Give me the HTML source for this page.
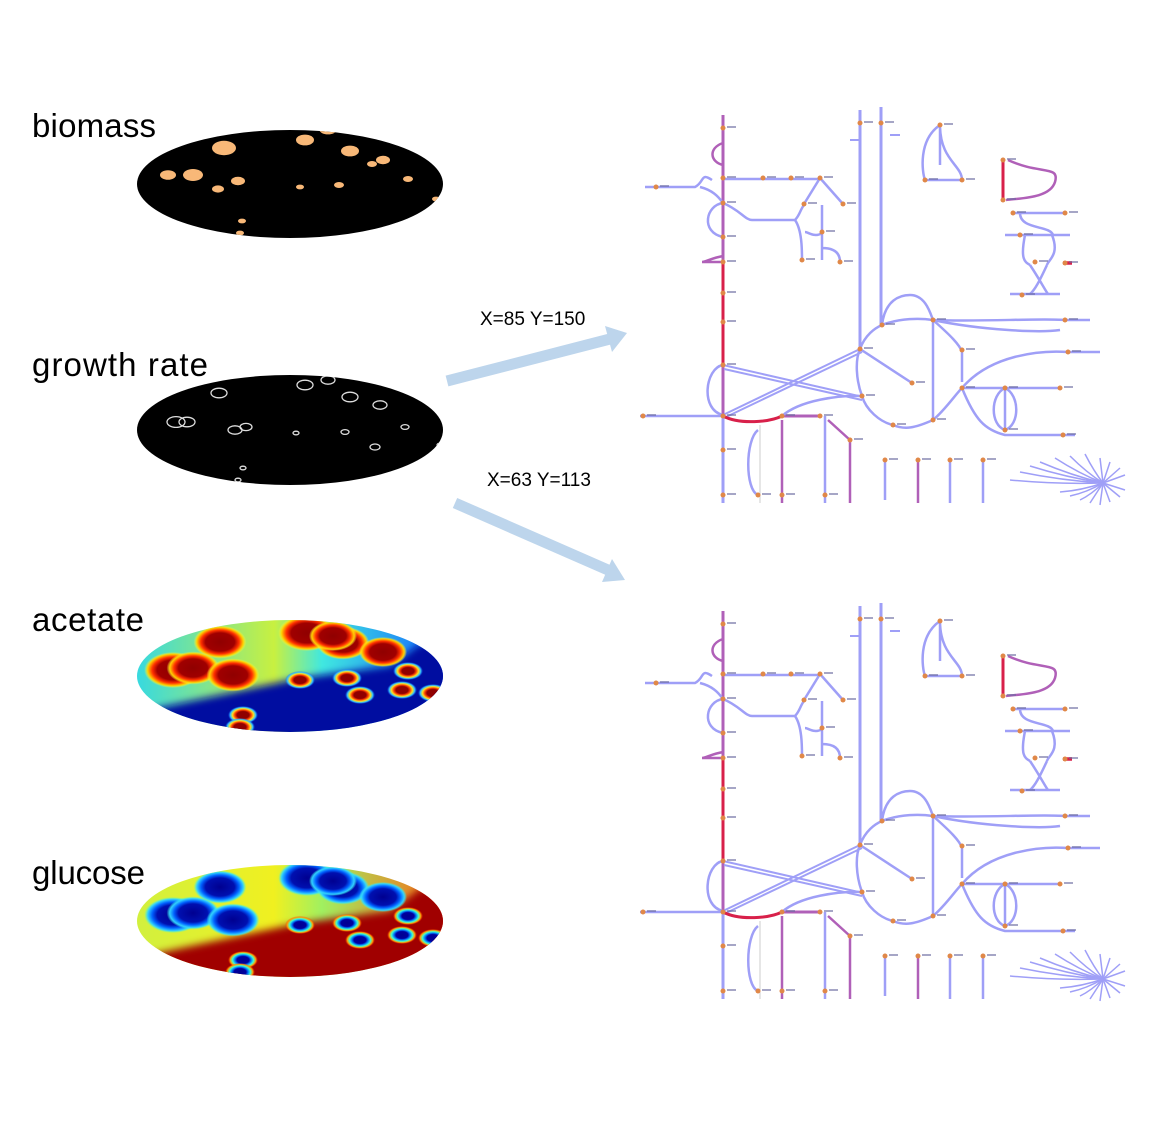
<!DOCTYPE html>
<html><head><meta charset="utf-8"><style>
body{margin:0;background:#fff;}
svg{display:block;}
.lbl{font-family:"Liberation Sans",sans-serif;font-size:33px;fill:#000;}
.arl{font-family:"Liberation Sans",sans-serif;font-size:19px;fill:#000;}
</style></head><body>
<svg id="root" width="1153" height="1125" viewBox="0 0 1153 1125" xmlns="http://www.w3.org/2000/svg">
<defs>
<clipPath id="c1"><ellipse cx="290" cy="184" rx="153" ry="54"/></clipPath>
<clipPath id="c2"><ellipse cx="290" cy="430" rx="153" ry="55"/></clipPath>
<clipPath id="c3"><ellipse cx="290" cy="676" rx="153" ry="56"/></clipPath>
<clipPath id="c4"><ellipse cx="290" cy="921" rx="153" ry="56"/></clipPath>
<filter id="bl" x="-20%" y="-20%" width="140%" height="140%"><feGaussianBlur stdDeviation="4"/></filter>
<linearGradient id="acBase" x1="0" y1="0" x2="1" y2="0">
<stop offset="0" stop-color="#30d8e8"/><stop offset="0.45" stop-color="#c8f040"/><stop offset="0.6" stop-color="#40e8e0"/><stop offset="1" stop-color="#1060ff"/></linearGradient>
<linearGradient id="glBase" x1="0" y1="0" x2="1" y2="0">
<stop offset="0" stop-color="#d0f040"/><stop offset="0.45" stop-color="#f0f020"/><stop offset="0.6" stop-color="#a0f060"/><stop offset="1" stop-color="#ff6010"/></linearGradient>
<radialGradient id="redBlob"><stop offset="0" stop-color="#900000"/><stop offset="0.55" stop-color="#a00000"/><stop offset="0.72" stop-color="#ff3000"/><stop offset="0.88" stop-color="#ffd000"/><stop offset="1" stop-color="#ffff40" stop-opacity="0"/></radialGradient>
<radialGradient id="blueBlob"><stop offset="0" stop-color="#000090"/><stop offset="0.55" stop-color="#0010b0"/><stop offset="0.72" stop-color="#0060ff"/><stop offset="0.88" stop-color="#30d0ff"/><stop offset="1" stop-color="#40ffe0" stop-opacity="0"/></radialGradient>
<radialGradient id="redDot"><stop offset="0" stop-color="#900000"/><stop offset="0.4" stop-color="#900000"/><stop offset="0.55" stop-color="#ff4000"/><stop offset="0.7" stop-color="#ffe020"/><stop offset="0.85" stop-color="#30c0ff"/><stop offset="1" stop-color="#1060ff" stop-opacity="0"/></radialGradient>
<radialGradient id="blueDot"><stop offset="0" stop-color="#000090"/><stop offset="0.4" stop-color="#0000a0"/><stop offset="0.55" stop-color="#0080ff"/><stop offset="0.7" stop-color="#40ffd0"/><stop offset="0.85" stop-color="#ffa000"/><stop offset="1" stop-color="#ff3000" stop-opacity="0"/></radialGradient>
</defs>

<text class="lbl" x="32" y="137" textLength="124">biomass</text>
<text class="lbl" x="32" y="376" textLength="176">growth rate</text>
<text class="lbl" x="32" y="631" textLength="112">acetate</text>
<text class="lbl" x="32" y="884" textLength="113">glucose</text>

<g id="biomass"></g>
<g id="growth"></g>
<g id="acetate"></g>
<g id="glucose"></g>

<g>
<line x1="447" y1="381" x2="610" y2="339" stroke="#bdd5ec" stroke-width="11"/>
<polygon points="627,333 605,326 612,352" fill="#bdd5ec"/>
</g>
<text class="arl" x="480" y="325">X=85 Y=150</text>
<g>
<line x1="455" y1="503" x2="608" y2="570" stroke="#bdd5ec" stroke-width="11"/>
<polygon points="625,580 612,559 602,582" fill="#bdd5ec"/>
</g>
<text class="arl" x="487" y="486">X=63 Y=113</text>

<g id="mapTop"></g>
<g id="mapBot" transform="translate(0,496)"></g>
</svg>
<script>
const NS="http://www.w3.org/2000/svg";
function mk(tag,attrs,parent){const e=document.createElementNS(NS,tag);for(const k in attrs)e.setAttribute(k,attrs[k]);parent.appendChild(e);return e;}

const biomassX=[224,193,168,238,218,305,328,350,383,372,339,300,408,436,242,240];
const biomassY=[148,175,175,181,189,140,129,151,160,164,185,187,179,199,221,233];
const biomassR=[12,10,8,7,6,9,9,9,7,5,5,4,5,4,4,4];
const ringX=[219,305,328,350,380,176,235,246,296,345,375,405,440,243,238,187];
const ringY=[393,385,380,397,405,422,430,427,433,432,447,427,445,468,480,422];
const ringR=[8,8,7,8,7,9,7,6,3,4,5,4,3,3,3,8];
const bigX=[220,173,193,233,307,343,383,333];
const bigY=[-34,-6,-8,-1,-43,-33,-24,-40];
const bigR=[22,24,22,22,24,22,20,20];
const dotX=[300,347,408,360,402,433,243,240];
const dotY=[4,2,-5,19,14,17,39,51];

{
 const g=document.getElementById('biomass');
 const bg=mk('ellipse',{cx:290,cy:184,rx:153,ry:54,fill:'#000'},g);
 
 
 for(let i=0;i<biomassX.length;i++){
  const e=mk('ellipse',{cx:biomassX[i],cy:biomassY[i],rx:biomassR[i],ry:biomassR[i]*0.6,fill:'#f8b878','clip-path':'url(#c1)'},g);
  
  
 }
}
{
 const g=document.getElementById('growth');
 const bg=mk('ellipse',{cx:290,cy:430,rx:153,ry:55,fill:'#000'},g);
 
 
 for(let i=0;i<ringX.length;i++){
  const e=mk('ellipse',{cx:ringX[i],cy:ringY[i],rx:ringR[i],ry:ringR[i]*0.6,fill:'none',stroke:'#ddd','stroke-width':1.3,'clip-path':'url(#c2)'},g);
  
  
 }
}
function field(id,cy,clip,base,low,big,dot){
 const g=document.getElementById(id);
 const c=mk('g',{'clip-path':clip},g);
 mk('rect',{x:130,y:cy-60,width:320,height:120,fill:base},c);
 const p=mk('polygon',{points:`120,${cy+40} 300,${cy+2} 390,${cy-10} 420,${cy-32} 460,${cy-40} 460,${cy+70} 120,${cy+70}`,fill:low,filter:'url(#bl)'},c);
 
 
 for(let i=0;i<bigX.length;i++){
  const e=mk('ellipse',{cx:bigX[i],cy:cy+bigY[i],rx:bigR[i]*1.2,ry:bigR[i]*0.75,fill:big},c);
  
  
 }
 for(let i=0;i<dotX.length;i++){
  const e=mk('ellipse',{cx:dotX[i],cy:cy+dotY[i],rx:15,ry:9,fill:dot},c);
  
  
 }
}
field('acetate',676,'url(#c3)','url(#acBase)','#0008a0','url(#redBlob)','url(#redDot)');
field('glucose',921,'url(#c4)','url(#glBase)','#a00000','url(#blueBlob)','url(#blueDot)');

const LAV='#9f9ff7',RED='#d8204a',PUR='#b060b8',ORG='#e08848';
const mapPaths=[
 ['M723 115 V260',PUR,3],['M723 260 V365',RED,3],['M723 365 V416',PUR,3],['M723 416 V503',LAV,3],
 ['M723 143 C708 148 710 162 723 165',PUR,2.5],
 ['M723 179 H820',LAV,2.5],['M820 178 L804 204',LAV,2.5],['M820 178 L843 204',LAV,2.5],
 ['M645 187 H695 C705 182 700 172 712 180 M700 187 C712 190 718 196 723 203',LAV,2.5],
 ['M723 203 C706 205 700 232 723 237',LAV,2.5],
 ['M723 203 C740 210 745 220 752 220 H795 C800 215 800 210 804 205',LAV,2.5],
 ['M795 220 C802 230 802 250 802 260',LAV,2.5],
 ['M822 205 V260 M822 233 C815 238 808 232 805 232 M822 248 C830 248 840 250 840 262',LAV,2.5],
 ['M723 256 C712 258 705 262 702 262 H723',PUR,2.5],
 ['M860 110 V350',LAV,3],['M881 107 V325',LAV,3],
 ['M940 125 C918 140 922 172 925 180 M925 180 H962 M940 125 C940 160 962 165 962 180 M940 125 V165',LAV,2.5],
 ['M1003 160 V200',RED,3],['M1008 160 C1040 175 1060 165 1055 182 C1050 198 1022 198 1006 200',PUR,2.5],
 ['M1013 213 H1065',LAV,2.5],['M1005 235 H1070',LAV,2.5],
 ['M1020 213 C1020 230 1050 225 1053 235 M1025 235 C1020 260 1025 262 1030 265 M1052 235 C1060 255 1048 260 1047 265',LAV,2.5],
 ['M1030 265 C1040 280 1045 290 1048 294 M1047 265 C1040 280 1035 290 1030 294',LAV,2.5],
 ['M1010 294 H1060',LAV,2.5],
 ['M1063 263 H1072',RED,3.5],
 ['M860 349 C865 335 875 328 882 325 C900 318 920 318 933 320 V420 C915 428 905 430 893 425 C880 422 866 410 862 396 C856 380 855 360 860 349',LAV,2.5],
 ['M882 325 C885 300 900 295 910 295 C925 295 930 312 933 320',LAV,2.5],
 ['M933 320 C980 322 1040 318 1065 320 H1090',LAV,2.5],['M933 320 C980 330 1040 333 1060 330',LAV,2.5],
 ['M933 320 C950 335 960 345 962 352 V382',LAV,2.5],
 ['M962 388 C990 355 1040 350 1068 352 H1100',LAV,2.5],
 ['M962 388 H1060 M962 388 C975 420 985 430 1005 435 H1075',LAV,2.5],
 ['M1005 388 C990 395 990 425 1005 430 C1020 425 1020 395 1005 388 M1005 388 V430',LAV,2.5],
 ['M933 420 C945 410 955 395 962 388',LAV,2.5],
 ['M723 415 L860 349 M726 417 L862 352',LAV,2],['M723 365 L863 397 M724 369 L862 400',LAV,2],
 ['M860 349 L912 383',LAV,2.5],
 ['M723 365 C705 368 700 410 723 415',LAV,2.5],
 ['M640 416 H723',LAV,2.5],['M723 416 C740 425 770 422 782 416',RED,3],['M782 416 H820',PUR,3],
 ['M782 416 C800 400 840 395 862 396',LAV,2.5],
 ['M758 430 C745 440 745 490 758 495',LAV,2.5],['M760 425 V503','#ccc',1],
 ['M782 420 V503',PUR,2.5],['M825 416 V503',LAV,2.5],['M828 420 L850 440 V503',PUR,2.5],
 ['M885 460 V500',LAV,2.5],['M918 460 V503',PUR,2.5],['M950 460 V503',LAV,2.5],['M983 460 V503',LAV,2.5],
 ['M890 135 H900',LAV,2],['M860 140 H850',LAV,2]
];
const mapNodes=[[723,128],[723,178],[723,203],[723,237],[723,262],[723,293],[723,322],[723,365],[723,416],[723,450],[723,495],
 [763,178],[791,178],[820,178],[804,204],[843,204],[802,260],[822,232],[840,262],[656,187],[860,123],[881,123],[925,180],[962,180],[940,125],
 [1003,200],[1003,160],[1013,213],[1065,213],[1020,235],[1035,262],[1065,263],[1022,295],[882,325],[933,320],[1065,320],[962,350],[962,388],[1068,352],[1060,388],[1005,388],[1005,430],[1063,435],
 [860,349],[862,396],[912,383],[893,425],[933,420],[643,416],[782,416],[820,416],[782,495],[758,495],[825,495],[850,440],[885,460],[918,460],[950,460],[983,460]];
const fanEndX=[1010,1020,1030,1040,1055,1070,1085,1100,1110,1120,1125,1125,1120,1110,1100,1090,1080,1070,1060];
const fanEndY=[480,472,466,462,458,456,454,458,462,468,475,490,497,502,505,503,500,496,492];

function drawMap(id){
 const g=document.getElementById(id);
 for(const p of mapPaths){
  const e=mk('path',{d:p[0],fill:'none',stroke:p[1],'stroke-width':p[2]},g);
  
  
 }
 for(let i=0;i<fanEndX.length;i++){
  const e=mk('path',{d:`M1103 483 Q${(1103+fanEndX[i])/2} ${(483+fanEndY[i])/2+ (fanEndX[i]<1090?3:0)} ${fanEndX[i]} ${fanEndY[i]}`,fill:'none',stroke:LAV,'stroke-width':1.5},g);
  
  
 }
 for(const n of mapNodes){
  const e=mk('circle',{cx:n[0],cy:n[1],r:2.5,fill:ORG},g);
  
  
  mk('rect',{x:n[0]+4,y:n[1]-2,width:9,height:2,fill:'#6a6aa0',opacity:0.6},g);
 }
}
drawMap('mapTop');
drawMap('mapBot');
</script>
</body></html>
